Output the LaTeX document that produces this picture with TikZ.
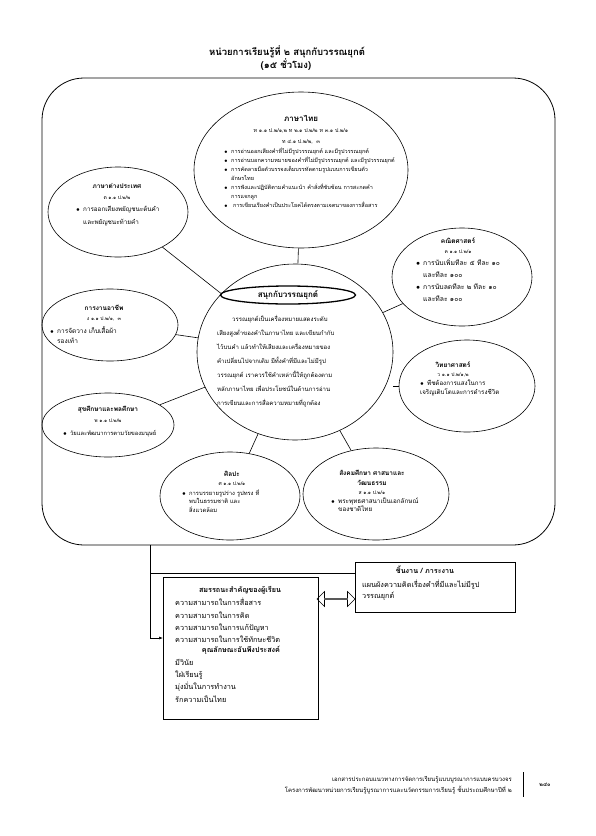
\documentclass[tikz,border=0pt]{standalone}
\usepackage{fontspec}
\setmainfont{Loma}[Script=Thai]
\usetikzlibrary{shapes.geometric,shapes.arrows,arrows.meta,positioning}

\newcommand{\itm}{\makebox[7pt][l]{$\bullet$}}
\newcommand{\ind}{\hspace*{7pt}}

\begin{document}
\begin{tikzpicture}[x=1pt,y=-1pt,
    oval/.style={draw=black,ellipse,inner sep=0pt,line width=0.6pt},
    head/.style={font=\fontsize{6.5}{9}\selectfont\bfseries,align=center,inner sep=0pt},
    code/.style={font=\fontsize{5}{10}\selectfont,align=center,inner sep=0pt},
    note/.style={font=\fontsize{5.5}{9}\selectfont,align=left,inner sep=0pt,anchor=north west},
    link/.style={line width=0.6pt},
    card/.style={draw=black,line width=0.7pt,inner sep=0pt,anchor=north west},
    list/.style={font=\fontsize{7.3}{12.3}\selectfont,align=left,inner sep=0pt,anchor=north west}
  ]
    \useasboundingbox (0,0) rectangle (595,836);
    \node[font=\fontsize{9.5}{10}\selectfont\bfseries] (title) at (287,52) {หน่วยการเรียนรู้ที่ ๒ สนุกกับวรรณยุกต์};
    \node[font=\fontsize{9.5}{10}\selectfont\bfseries] (hours) at (286,65) {(๑๕ ชั่วโมง)};
    \node[draw=black,line width=0.8pt,rounded corners=42pt,minimum width=513pt,minimum height=467pt] (frame) at (298.5,311.5) {};

    % central unit
    \node[oval,minimum width=196pt,minimum height=176pt] (core) at (295,352) {};
    \node[oval,line width=1.3pt,minimum width=135pt,minimum height=18pt,font=\fontsize{8}{9}\selectfont\bfseries] (unit) at (288,295) {สนุกกับวรรณยุกต์};
    \node[font=\fontsize{6}{14}\selectfont,align=left,inner sep=0pt,anchor=north west] (idea) at (217,315) {\hspace*{15pt}วรรณยุกต์เป็นเครื่องหมายแสดงระดับ\\
      เสียงสูงต่ำของคำในภาษาไทย และเขียนกำกับ\\
      ไว้บนคำ แล้วทำให้เสียงและเครื่องหมายของ\\
      คำเปลี่ยนไปจากเดิม มีทั้งคำที่มีและไม่มีรูป\\
      วรรณยุกต์ เราควรใช้คำเหล่านี้ให้ถูกต้องตาม\\
      หลักภาษาไทย เพื่อประโยชน์ในด้านการอ่าน\\
      การเขียนและการสื่อความหมายที่ถูกต้อง};

    % subjects
    \node[oval,minimum width=214pt,minimum height=156pt] (thai) at (301,170) {};
    \node[head,font=\fontsize{8}{9}\selectfont\bfseries] (thaiT) at (301,118) {ภาษาไทย};
    \node[code,font=\fontsize{5.3}{11}\selectfont] (thaiC) at (301,136) {ท ๑.๑ ป.๒/๑,๒ ท ๒.๑ ป.๒/๒ ท ๓.๑ ป.๒/๑\\ท ๔.๑ ป.๒/๒,\ \ ๓};
    \node[note] (thaiN) at (224,148) {\itm การอ่านออกเสียงคำที่ไม่มีรูปวรรณยุกต์ และมีรูปวรรณยุกต์\\
      \itm การอ่านบอกความหมายของคำที่ไม่มีรูปวรรณยุกต์ และมีรูปวรรณยุกต์\\
      \itm การคัดลายมือตัวบรรจงเต็มบรรทัดตามรูปแบบการเขียนตัว\\
      \ind อักษรไทย\\
      \itm การฟังและปฏิบัติตามคำแนะนำ คำสั่งที่ซับซ้อน การสะกดคำ\\
      \ind การแจกลูก\\
      \itm\ การเขียนเรียงคำเป็นประโยคได้ตรงตามเจตนาของการสื่อสาร};

    \node[oval,minimum width=140pt,minimum height=90pt] (lang) at (118,212) {};
    \node[head] (langT) at (117,186) {ภาษาต่างประเทศ};
    \node[code] (langC) at (117,198) {ต ๑.๑ ป.๒/๒};
    \node[note,font=\fontsize{6.3}{13}\selectfont] (langN) at (76,206) {\itm การออกเสียงพยัญชนะต้นคำ\\\ind และพยัญชนะท้ายคำ};

    \node[oval,minimum width=136pt,minimum height=72pt] (work) at (110,325) {};
    \node[head] (workT) at (104,308) {การงานอาชีพ};
    \node[code] (workC) at (104,319) {ง ๑.๑ ป.๒/๑,\ \ ๓};
    \node[note,font=\fontsize{6.5}{10}\selectfont] (workN) at (50,326) {\itm การจัดวาง เก็บเสื้อผ้า\\\ind รองเท้า};

    \node[oval,minimum width=132pt,minimum height=64pt] (health) at (108,425) {};
    \node[head] (healthT) at (108,410) {สุขศึกษาและพลศึกษา};
    \node[code] (healthC) at (108,421) {พ ๑.๑ ป.๒/๒};
    \node[note,font=\fontsize{5.8}{9}\selectfont] (healthN) at (63,430) {\itm วัยและพัฒนาการตามวัยของมนุษย์};

    \node[oval,minimum width=140pt,minimum height=98pt] (math) at (462,277) {};
    \node[head] (mathT) at (458,241) {คณิตศาสตร์};
    \node[code] (mathC) at (458,252) {ค ๑.๑ ป.๒/๑};
    \node[note,font=\fontsize{6.8}{12}\selectfont] (mathN) at (416,258) {\itm การนับเพิ่มทีละ ๕ ทีละ ๑๐\\\ind และทีละ ๑๐๐\\
      \itm การนับลดทีละ ๒ ทีละ ๑๐\\\ind และทีละ ๑๐๐};

    \node[oval,minimum width=136pt,minimum height=92pt] (sci) at (467,386) {};
    \node[head] (sciT) at (453,365) {วิทยาศาสตร์};
    \node[code] (sciC) at (453,375) {ว ๑.๑ ป.๒/๑,๒};
    \node[note,font=\fontsize{6.2}{9}\selectfont] (sciN) at (420,380) {\itm พืชต้องการแสงในการ\\เจริญเติบโตและการดำรงชีวิต};

    \node[oval,minimum width=140pt,minimum height=88pt] (art) at (230,496) {};
    \node[head] (artT) at (232,474) {ศิลปะ};
    \node[code] (artC) at (232,484) {ศ ๑.๑ ป.๒/๑};
    \node[note,font=\fontsize{5.8}{8.5}\selectfont] (artN) at (182,489) {\itm การบรรยายรูปร่าง รูปทรง ที่\\\ind พบในธรรมชาติ และ\\\ind สิ่งแวดล้อม};

    \node[oval,minimum width=146pt,minimum height=92pt] (social) at (376,494) {};
    \node[head,font=\fontsize{6.5}{10}\selectfont\bfseries] (socialT) at (372,478) {สังคมศึกษา ศาสนาและ\\วัฒนธรรม};
    \node[code] (socialC) at (372,493) {ส ๑.๑ ป.๒/๑};
    \node[note,font=\fontsize{6.3}{8.5}\selectfont] (socialN) at (331,497) {\itm พระพุทธศาสนาเป็นเอกลักษณ์\\\ind ของชาติไทย};

    \draw[link] (thai) -- (core);
    \draw[link] (lang) -- (core);
    \draw[link] (work) -- (core);
    \draw[link] (health) -- (core);
    \draw[link] (math) -- (core);
    \draw[link] (sci.west) -- (core.east |- sci.west);
    \draw[link] (art) -- (core);
    \draw[link] (social) -- (core);

    % competencies and tasks
    \node[card,minimum width=155pt,minimum height=142pt] (skill) at (163,577) {};
    \node[head,font=\fontsize{7.2}{8}\selectfont\bfseries] (skillT) at (240,590) {สมรรถนะสำคัญของผู้เรียน};
    \node[list] (skillN) at (175,598) {ความสามารถในการสื่อสาร\\ความสามารถในการคิด\\ความสามารถในการแก้ปัญหา\\ความสามารถในการใช้ทักษะชีวิต};
    \node[head,font=\fontsize{7.2}{8}\selectfont\bfseries] (traitT) at (241,650) {คุณลักษณะอันพึงประสงค์};
    \node[list] (traitN) at (175,659) {มีวินัย\\ใฝ่เรียนรู้\\มุ่งมั่นในการทำงาน\\รักความเป็นไทย};

    \node[card,minimum width=160pt,minimum height=50pt] (task) at (355,562) {};
    \node[head,font=\fontsize{7.2}{8}\selectfont\bfseries] (taskT) at (425,570) {ชิ้นงาน / ภาระงาน};
    \node[list,font=\fontsize{7.3}{11}\selectfont] (taskN) at (362,580) {แผนผังความคิดเรื่องคำที่มีและไม่มีรูป\\วรรณยุกต์};

    \node[double arrow,draw=black,line width=0.6pt,minimum height=38pt,minimum width=15pt,
          double arrow head extend=3pt,inner sep=0pt] (swap) at (336,599) {};

    \coordinate (split) at (150,573);
    \coordinate (bend) at (150,638);
    \draw[link] (frame.south -| split) -- (bend);
    \draw[link] (split) -- (split -| task.west);
    \draw[link,-{Latex[length=4pt]}] (bend) -- (bend -| skill.west);

    % footer
    \node[font=\fontsize{6}{7}\selectfont,anchor=east,inner sep=0pt] (foot1) at (512,780) {เอกสารประกอบแนวทางการจัดการเรียนรู้แบบบูรณาการแบบครบวงจร};
    \node[font=\fontsize{6}{7}\selectfont,anchor=east,inner sep=0pt] (foot2) at (512,790) {โครงการพัฒนาหน่วยการเรียนรู้บูรณาการและนวัตกรรมการเรียนรู้ ชั้นประถมศึกษาปีที่ ๒};
    \draw[line width=0.8pt] (523,772) -- (523,797);
    \node[font=\fontsize{5.5}{7}\selectfont\bfseries] (page) at (545,785) {๒๔๐};
\end{tikzpicture}
\end{document}
